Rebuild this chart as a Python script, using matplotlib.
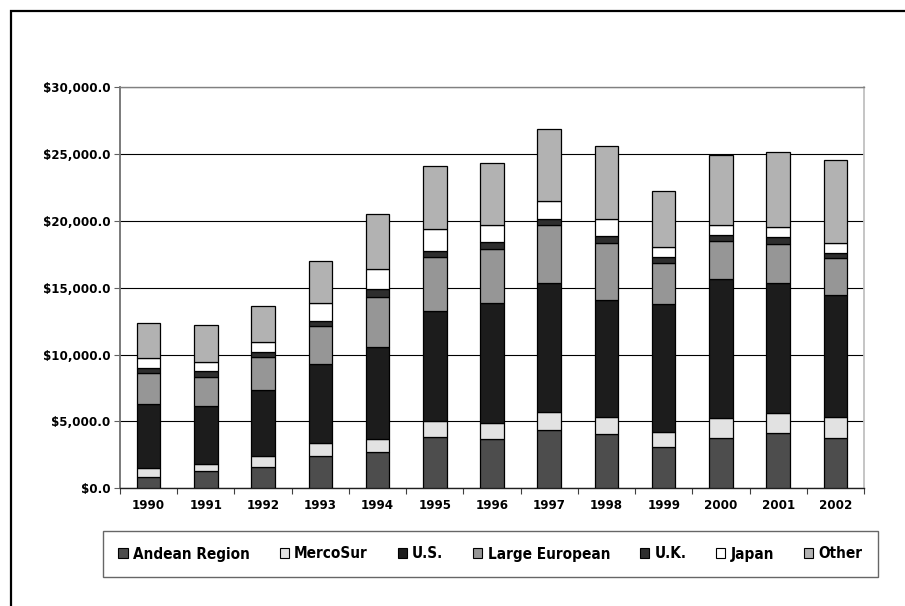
import matplotlib
matplotlib.use("Agg")
import matplotlib.pyplot as plt
from matplotlib.patches import Rectangle
from matplotlib.ticker import FuncFormatter, MultipleLocator, FixedLocator
import numpy as np

years = ["1990", "1991", "1992", "1993", "1994", "1995", "1996",
         "1997", "1998", "1999", "2000", "2001", "2002"]

series_names = ["Andean Region", "MercoSur", "U.S.", "Large European",
                "U.K.", "Japan", "Other"]

andean = [870, 1300, 1620, 2420, 2690, 3810, 3680, 4330, 4030, 3080, 3780, 4130, 3760]
mercosur = [620, 520, 820, 950, 970, 1240, 1170, 1390, 1270, 1140, 1440, 1490, 1540]
us = [4790, 4310, 4890, 5930, 6880, 8230, 9010, 9650, 8750, 9580, 10450, 9700, 9150]
large_european = [2370, 2220, 2470, 2840, 3740, 4010, 4050, 4280, 4280, 3060, 2810, 2960, 2760]
uk = [370, 400, 370, 350, 620, 470, 470, 500, 520, 400, 450, 520, 350]
japan = [720, 670, 770, 1350, 1500, 1620, 1320, 1340, 1290, 800, 770, 720, 800]
other = [2620, 2820, 2670, 3140, 4090, 4700, 4630, 5400, 5420, 4200, 5180, 5600, 6220]

series_values = [andean, mercosur, us, large_european, uk, japan, other]
series_colors = ["#4d4d4d", "#e2e2e2", "#1c1c1c", "#969696",
                 "#2e2e2e", "#ffffff", "#b2b2b2"]

W, H = 905, 606
fig = plt.figure(figsize=(W / 100, H / 100), dpi=100)
fig.patch.set_facecolor("white")

# outer chart border (top and left edges visible)
fig.add_artist(Rectangle((10.5 / W, -0.1), 1.2, (H - 10.5) / H + 0.1,
                         transform=fig.transFigure, fill=False,
                         edgecolor="black", linewidth=1.6))

left, right, top, bottom = 120, 864, 87, 488.3
ax = fig.add_axes([left / W, (H - bottom) / H, (right - left) / W, (bottom - top) / H])

x = np.arange(len(years))
base = np.zeros(len(years))
handles = []
for name, vals, col in zip(series_names, series_values, series_colors):
    vals = np.array(vals, dtype=float)
    b = ax.bar(x, vals, width=0.41, bottom=base, color=col,
               edgecolor="black", linewidth=0.9, label=name, zorder=3)
    handles.append(b)
    base += vals

ax.set_xlim(-0.5, len(years) - 0.5)
ax.set_ylim(0, 30000)
ax.yaxis.set_major_locator(MultipleLocator(5000))
ax.yaxis.set_major_formatter(FuncFormatter(lambda v, p: "${:,.1f}".format(v)))
ax.grid(axis="y", color="black", linewidth=0.8, zorder=0)

ax.set_xticks(x)
ax.set_xticklabels(years)
ax.xaxis.set_minor_locator(FixedLocator(np.arange(-0.5, len(years), 1.0)))
ax.tick_params(axis="x", which="major", length=0, pad=8)
ax.tick_params(axis="x", which="minor", length=4, width=0.8, color="#404040")
ax.tick_params(axis="y", length=4, width=0.8, color="#606060", pad=3)

for lab in ax.get_xticklabels() + ax.get_yticklabels():
    lab.set_fontfamily("DejaVu Sans")
    lab.set_fontweight("bold")
    lab.set_fontsize(8.6)

ax.spines["left"].set_color("#707070")
ax.spines["left"].set_linewidth(1.3)
ax.spines["bottom"].set_color("#202020")
ax.spines["bottom"].set_linewidth(1.0)
ax.spines["top"].set_color("#808080")
ax.spines["top"].set_linewidth(1.0)
ax.spines["right"].set_color("#c0c0c0")
ax.spines["right"].set_linewidth(1.3)

leg = fig.legend(handles=handles, labels=series_names, ncol=7,
                 loc="center", bbox_to_anchor=(490.5 / W, (H - 554) / H),
                 frameon=True, fancybox=False, edgecolor="#404040",
                 handlelength=0.6, handleheight=0.6, handletextpad=0.35,
                 columnspacing=1.95, borderpad=1.0,
                 prop={"family": "DejaVu Sans", "weight": "bold",
                       "size": 11, "stretch": "condensed"})
leg.get_frame().set_linewidth(1.0)
for h in leg.legend_handles:
    h.set_linewidth(0.8)

fig.savefig("out.png", dpi=100, facecolor="white")
